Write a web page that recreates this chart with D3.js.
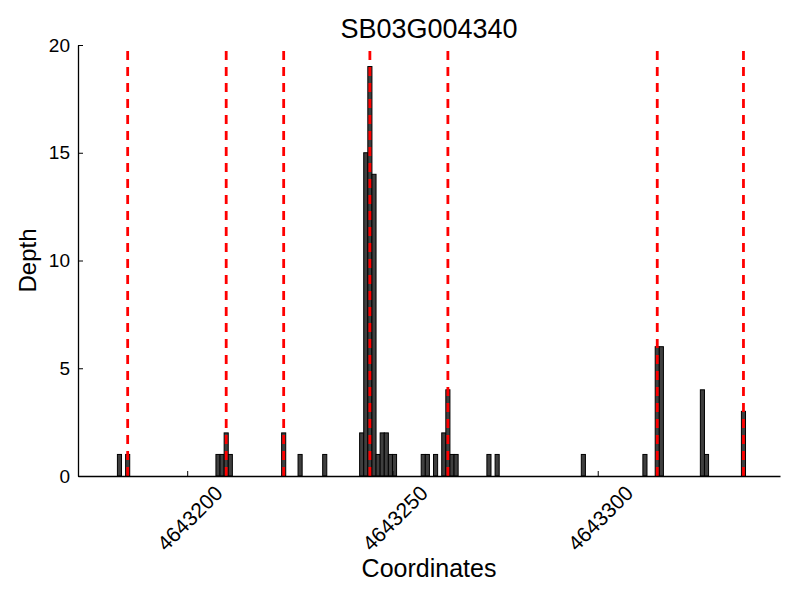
<!DOCTYPE html>
<html>
<head>
<meta charset="utf-8" />
<title>SB03G004340</title>
<script src="https://d3js.org/d3.v7.min.js"></script>
<style>
    body { margin: 0; background: #fff; }
    svg text { font-family: "Liberation Sans", Arial, sans-serif; fill: #000; }
    .axis path, .axis line { stroke: #000; }
</style>
</head>
<body>
<svg id="chart" width="800" height="600"></svg>
<script>
// read depths per coordinate
var positions = [4643183, 4643185, 4643207, 4643208, 4643209, 4643210, 4643223, 4643227,
    4643233, 4643242, 4643243, 4643244, 4643245, 4643246, 4643247, 4643248, 4643249,
    4643250, 4643257, 4643258, 4643260, 4643262, 4643263, 4643264, 4643265, 4643273,
    4643275, 4643296, 4643311, 4643314, 4643315, 4643325, 4643326, 4643335];
var depths = [1, 1, 1, 1, 2, 1, 2, 1,
    1, 2, 15, 19, 14, 1, 2, 2, 1,
    1, 1, 1, 1, 2, 4, 1, 1, 1,
    1, 1, 1, 6, 6, 4, 1, 3];
// red dashed markers
var sites = [4643185, 4643209, 4643223, 4643244, 4643263, 4643314, 4643335];
var xTicks = [4643200, 4643250, 4643300];
var yTicks = [0, 5, 10, 15, 20];

var svg = d3.select("#chart"),
    margin = {top: 45, right: 20, bottom: 124, left: 78},
    width = +svg.attr("width") - margin.left - margin.right,
    height = +svg.attr("height") - margin.top - margin.bottom;

var x = d3.scaleLinear().domain([4643173.4, 4643344.4]).range([0, width]);
var y = d3.scaleLinear().domain([0, 20]).range([height, 0]);

var g = svg.append("g")
    .attr("transform", "translate(" + margin.left + "," + margin.top + ")");

var data = positions.map(function(p, i) { return {pos: p, depth: depths[i]}; });

g.selectAll(".bar")
    .data(data)
    .enter().append("rect")
    .attr("class", "bar")
    .attr("x", function(d) { return x(d.pos); })
    .attr("y", function(d) { return y(d.depth); })
    .attr("width", function(d) { return x(d.pos + 1) - x(d.pos); })
    .attr("height", function(d) { return height - y(d.depth); })
    .attr("fill", "#3f3f3f")
    .attr("stroke", "#000")
    .attr("stroke-width", 1);

g.selectAll(".site")
    .data(sites)
    .enter().append("line")
    .attr("class", "site")
    .attr("x1", function(d) { return x(d + 0.5); })
    .attr("x2", function(d) { return x(d + 0.5); })
    .attr("y1", y(0))
    .attr("y2", y(20))
    .attr("stroke", "#ff0000")
    .attr("stroke-width", 2.8)
    .attr("stroke-dasharray", "9,7");

// axes, ticks point inward
var xAxis = g.append("g")
    .attr("class", "axis")
    .attr("transform", "translate(0," + height + ")")
    .call(d3.axisBottom(x).tickValues(xTicks).tickSizeInner(-5).tickSizeOuter(0).tickFormat(d3.format("d")));
xAxis.select(".domain").attr("stroke-width", 1.3);
xAxis.selectAll(".tick text").remove();
xAxis.selectAll(".tick").append("text")
    .attr("text-anchor", "middle")
    .attr("dominant-baseline", "central")
    .attr("transform", "translate(2,42) rotate(-45)")
    .style("font-size", "21px")
    .text(function(d) { return d3.format("d")(d); });

var yAxis = g.append("g")
    .attr("class", "axis")
    .call(d3.axisLeft(y).tickValues(yTicks).tickSizeInner(-5).tickSizeOuter(0));
yAxis.select(".domain").attr("stroke-width", 1.3);
yAxis.selectAll(".tick text")
    .attr("x", -8)
    .style("font-size", "19px");

svg.append("text")
    .attr("x", margin.left + width / 2)
    .attr("y", 38)
    .attr("text-anchor", "middle")
    .style("font-size", "27px")
    .text("SB03G004340");

svg.append("text")
    .attr("x", margin.left + width / 2)
    .attr("y", 577)
    .attr("text-anchor", "middle")
    .style("font-size", "25px")
    .text("Coordinates");

svg.append("text")
    .attr("transform", "translate(36," + (margin.top + height / 2) + ") rotate(-90)")
    .attr("text-anchor", "middle")
    .style("font-size", "24px")
    .text("Depth");
</script>
</body>
</html>
